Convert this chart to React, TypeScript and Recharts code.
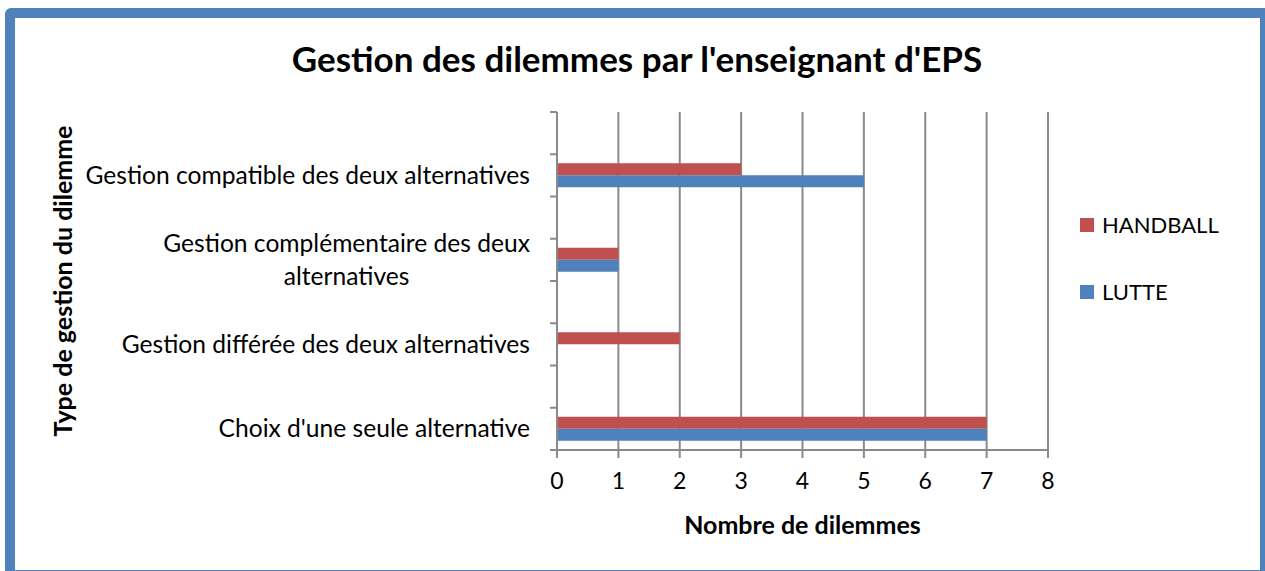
import { BarChart, Bar, XAxis, YAxis, CartesianGrid, Legend } from "recharts";

const categories = [
  "",
  "Gestion compatible des deux alternatives",
  "",
  "Gestion complémentaire des deux\nalternatives",
  "",
  "Gestion différée des deux alternatives",
  "",
  "Choix d'une seule alternative",
];
const handball = [null, 3, null, 1, null, 2, null, 7];
const lutte = [null, 5, null, 1, null, 0, null, 7];
const xTicks = [0, 1, 2, 3, 4, 5, 6, 7, 8];

const rows = categories.map((label, i) => ({
  key: i,
  label,
  HANDBALL: handball[i],
  LUTTE: lutte[i],
}));

const FONT = "Lato, 'Open Sans', sans-serif";
const RED = "#c0504d";
const BLUE = "#4f81bd";
const GRID = "#8a8a8a";
const W = 1265;
const H = 571;
const PLOT_TOP = 112;
const PLOT_BOTTOM = 450;
const PLOT_LEFT = 557;
const PLOT_RIGHT = 1048;
const BAND = (PLOT_BOTTOM - PLOT_TOP) / categories.length;
const LABEL_SIZE = 24.6;

let ctx: CanvasRenderingContext2D | null = null;
function textWidth(s: string) {
  if (!ctx) ctx = document.createElement("canvas").getContext("2d");
  if (!ctx) return s.length * LABEL_SIZE * 0.5;
  ctx.font = `${LABEL_SIZE}px Lato`;
  return ctx.measureText(s).width;
}

function CategoryTick(props: any) {
  const { y, index } = props;
  const lines = (categories[index] || "").split("\n").filter((l: string) => l);
  const right = PLOT_LEFT - 27;
  const widths = lines.map(textWidth);
  const maxW = Math.max(0, ...widths);
  const mid = right - maxW / 2;
  const lh = 33;
  const y0 = y - ((lines.length - 1) * lh) / 2;
  return (
    <g>
      <line x1={PLOT_LEFT - 7} x2={PLOT_LEFT} y1={y - BAND / 2} y2={y - BAND / 2} stroke={GRID} strokeWidth={2} />
      {index === categories.length - 1 && (
        <line x1={PLOT_LEFT - 7} x2={PLOT_LEFT} y1={y + BAND / 2} y2={y + BAND / 2} stroke={GRID} strokeWidth={2} />
      )}
      {lines.map((l: string, i: number) => (
        <text
          key={i}
          x={mid}
          y={y0 + i * lh}
          dy="0.35em"
          textAnchor="middle"
          fontSize={LABEL_SIZE}
          fontFamily={FONT}
          fill="#000"
        >
          {l}
        </text>
      ))}
    </g>
  );
}

function YTitle(props: any) {
  const { viewBox } = props;
  const cx = 63;
  const cy = viewBox.y + viewBox.height / 2;
  return (
    <text
      x={cx}
      y={cy}
      transform={`rotate(-90 ${cx} ${cy})`}
      textAnchor="middle"
      dy="0.35em"
      fontSize={25}
      fontWeight={700}
      fontFamily={FONT}
      fill="#000"
    >
      Type de gestion du dilemme
    </text>
  );
}

function XTitle(props: any) {
  const { viewBox } = props;
  const cx = viewBox.x + viewBox.width / 2;
  return (
    <text
      x={cx}
      y={525}
      dy="0.35em"
      textAnchor="middle"
      fontSize={25}
      fontWeight={700}
      fontFamily={FONT}
      fill="#000"
    >
      Nombre de dilemmes
    </text>
  );
}

function LegendBox() {
  const items = [
    { name: "HANDBALL", color: RED },
    { name: "LUTTE", color: BLUE },
  ];
  return (
    <div style={{ fontFamily: FONT, fontSize: 22, color: "#000" }}>
      {items.map((it) => (
        <div key={it.name} style={{ display: "flex", alignItems: "center", height: 67 }}>
          <span style={{ width: 14, height: 14, background: it.color, marginRight: 8, display: "inline-block" }} />
          {it.name}
        </div>
      ))}
    </div>
  );
}

export default function App() {
  return (
    <div style={{ position: "fixed", left: 0, top: 0, width: W, height: H, background: "#fff", overflow: "hidden" }}>
      <div
        style={{
          position: "absolute",
          left: 5,
          top: 8,
          width: 1265,
          height: 572,
          border: `10px solid ${BLUE}`,
          borderRadius: 6,
          boxSizing: "border-box",
        }}
      />
      <div
        style={{
          position: "absolute",
          left: 0,
          width: 1274,
          top: 36,
          textAlign: "center",
          fontFamily: FONT,
          fontWeight: 700,
          fontSize: 35,
          lineHeight: "44px",
          color: "#000",
        }}
      >
        Gestion des dilemmes par l'enseignant d'EPS
      </div>
      <div style={{ position: "absolute", left: 0, top: 0 }}>
        <BarChart
          width={W}
          height={H}
          data={rows}
          layout="vertical"
          barGap={0}
          margin={{ top: PLOT_TOP, right: W - PLOT_RIGHT, bottom: 0, left: 0 }}
        >
          <CartesianGrid horizontal={false} stroke={GRID} strokeWidth={2} />
          <XAxis
            type="number"
            domain={[0, 8]}
            ticks={xTicks}
            interval={0}
            height={H - PLOT_BOTTOM}
            axisLine={{ stroke: GRID, strokeWidth: 2 }}
            tickLine={{ stroke: GRID, strokeWidth: 2 }}
            tickSize={8}
            tickMargin={15}
            tick={{ fill: "#000", fontSize: 23, fontFamily: FONT }}
            label={<XTitle />}
          />
          <YAxis
            type="category"
            dataKey="key"
            width={PLOT_LEFT}
            interval={0}
            axisLine={{ stroke: GRID, strokeWidth: 2 }}
            tickLine={false}
            tick={<CategoryTick />}
            label={<YTitle />}
          />
          <Legend
            layout="vertical"
            align="center"
            verticalAlign="middle"
            content={<LegendBox />}
            wrapperStyle={{ position: "absolute", left: 1080, top: 191, width: 180 }}
          />
          <Bar dataKey="HANDBALL" fill={RED} barSize={12} isAnimationActive={false} />
          <Bar dataKey="LUTTE" fill={BLUE} barSize={12} isAnimationActive={false} />
        </BarChart>
      </div>
    </div>
  );
}
